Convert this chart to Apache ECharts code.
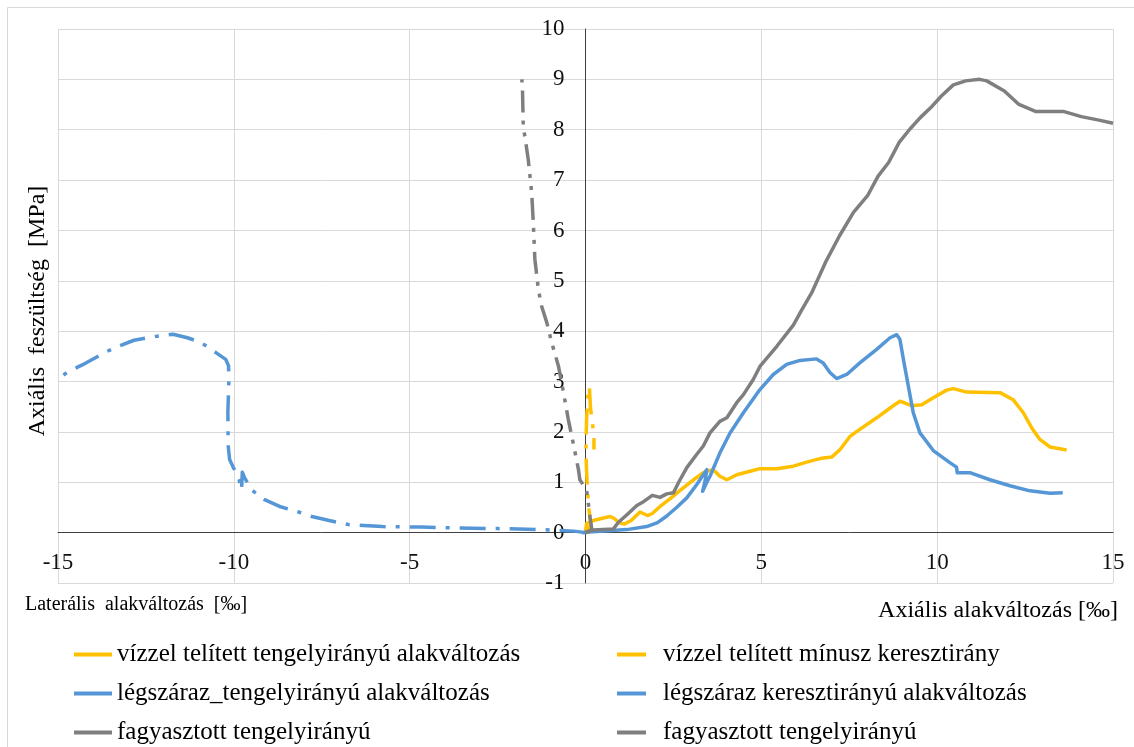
<!DOCTYPE html>
<html>
<head>
<meta charset="utf-8">
<script src="https://cdn.jsdelivr.net/npm/echarts@6/dist/echarts.min.js"></script>
<style>
  html, body { margin: 0; padding: 0; background: #fff; }
  #chart { width: 1134px; height: 747px; }
</style>
</head>
<body>
<div id="chart"></div>
<script>
// Axis ranges (‰ strain on x, MPa stress on y)
const xRange = { min: -15, max: 15, step: 5 };
const yRange = { min: -1, max: 10, step: 1 };

// Series names as shown in the legend
const seriesNames = [
  'vízzel telített tengelyirányú alakváltozás',
  'vízzel telített mínusz keresztirány',
  'légszáraz_tengelyirányú alakváltozás',
  'légszáraz keresztirányú alakváltozás',
  'fagyasztott tengelyirányú',
  'fagyasztott tengelyirányú'
];

// Water-saturated specimen, axial strain vs stress
const waterAxial = [
  [0, 0], [0.03, 0.18], [0.22, 0.24], [0.51, 0.29], [0.7, 0.32], [0.82, 0.28],
  [0.95, 0.2], [1.1, 0.17], [1.3, 0.24], [1.55, 0.41], [1.76, 0.34], [1.9, 0.38],
  [2.12, 0.52], [2.4, 0.67], [2.69, 0.84], [3.07, 1.05], [3.35, 1.19], [3.55, 1.24],
  [3.68, 1.22], [3.82, 1.12], [4.02, 1.05], [4.3, 1.15], [4.68, 1.22], [4.96, 1.27],
  [5.44, 1.27], [5.91, 1.32], [6.29, 1.4], [6.67, 1.47], [7.0, 1.5], [7.24, 1.65],
  [7.52, 1.91], [7.8, 2.05], [8.28, 2.28], [8.75, 2.52], [8.94, 2.61], [9.27, 2.52],
  [9.56, 2.54], [9.89, 2.68], [10.27, 2.83], [10.46, 2.86], [10.84, 2.79], [11.79, 2.78],
  [12.16, 2.64], [12.45, 2.38], [12.69, 2.08], [12.92, 1.85], [13.21, 1.7], [13.68, 1.64]
];

// Water-saturated specimen, negated lateral strain
const waterLateral = [
  [0, 0], [0.15, 0.15], [0.1, 0.45], [0.05, 0.92], [0.01, 1.58], [0.03, 2.25],
  [0.08, 2.84], [0.11, 2.9], [0.14, 2.5], [0.18, 2.25], [0.22, 2.05], [0.24, 1.85],
  [0.24, 1.65]
];

// Air-dry specimen, axial strain
const dryAxial = [
  [-0.1, 0], [0.22, 0.02], [1.17, 0.06], [1.74, 0.12], [2.05, 0.2], [2.31, 0.33],
  [2.59, 0.5], [2.88, 0.69], [3.16, 0.95], [3.35, 1.15], [3.45, 1.25], [3.4, 1.02],
  [3.33, 0.82], [3.45, 1.0], [3.54, 1.12], [3.82, 1.58], [4.11, 1.98], [4.49, 2.38],
  [4.96, 2.84], [5.34, 3.14], [5.72, 3.34], [6.1, 3.42], [6.57, 3.45], [6.76, 3.37],
  [6.95, 3.18], [7.14, 3.06], [7.43, 3.14], [7.8, 3.37], [8.28, 3.64], [8.66, 3.87],
  [8.85, 3.93], [8.94, 3.84], [9.04, 3.44], [9.18, 2.91], [9.32, 2.38], [9.51, 1.98],
  [9.89, 1.63], [10.36, 1.39], [10.55, 1.3], [10.57, 1.19], [10.93, 1.19], [11.5, 1.05],
  [12.07, 0.93], [12.64, 0.83], [13.21, 0.78], [13.57, 0.79]
];

// Air-dry specimen, lateral strain
const dryLateral = [
  [0, 0], [-0.33, 0.03], [-1.2, 0.06], [-2.5, 0.08], [-3.59, 0.09], [-4.68, 0.11],
  [-5.77, 0.12], [-6.31, 0.14], [-6.74, 0.16], [-7.29, 0.24], [-7.78, 0.32], [-8.16, 0.41],
  [-8.7, 0.52], [-9.14, 0.66], [-9.5, 0.85], [-9.7, 1.1], [-9.76, 1.2], [-9.78, 0.85],
  [-9.85, 1.05], [-10.01, 1.29], [-10.12, 1.45], [-10.16, 1.72], [-10.17, 2.38], [-10.14, 3.04],
  [-10.15, 3.31], [-10.23, 3.44], [-10.5, 3.57], [-10.77, 3.7], [-10.99, 3.79], [-11.32, 3.87],
  [-11.73, 3.94], [-12.18, 3.9], [-12.84, 3.82], [-13.28, 3.7], [-13.6, 3.6], [-14.31, 3.33],
  [-14.67, 3.21], [-15, 3.06]
];

// Frozen specimen, axial strain
const frozenAxial = [
  [0, 0], [0.22, 0.05], [0.79, 0.07], [0.93, 0.2], [1.17, 0.35], [1.46, 0.54],
  [1.66, 0.62], [1.9, 0.74], [2.12, 0.7], [2.31, 0.77], [2.5, 0.79], [2.65, 1.0],
  [2.88, 1.29], [3.16, 1.55], [3.35, 1.72], [3.54, 1.98], [3.82, 2.21], [4.02, 2.28],
  [4.3, 2.58], [4.49, 2.74], [4.77, 3.04], [4.96, 3.3], [5.44, 3.7], [5.91, 4.12],
  [6.13, 4.4], [6.43, 4.76], [6.82, 5.36], [7.22, 5.89], [7.62, 6.36], [8.02, 6.69],
  [8.32, 7.08], [8.62, 7.35], [8.92, 7.75], [9.22, 8.01], [9.52, 8.24], [9.82, 8.44],
  [10.12, 8.67], [10.46, 8.89], [10.81, 8.97], [11.21, 9.0], [11.41, 8.97], [11.91, 8.77],
  [12.31, 8.51], [12.81, 8.36], [13.61, 8.36], [14.1, 8.26], [14.6, 8.19], [15.0, 8.13]
];

// Frozen specimen, lateral strain
const frozenLateral = [
  [0, 0], [0.18, 0.06], [0.13, 0.3], [0.08, 0.59], [0.03, 0.85], [-0.16, 1.05],
  [-0.2, 1.25], [-0.35, 1.78], [-0.49, 2.25], [-0.63, 2.8], [-0.77, 3.31], [-0.96, 3.77],
  [-1.1, 4.17], [-1.25, 4.5], [-1.34, 4.83], [-1.44, 5.43], [-1.48, 6.09], [-1.53, 6.75],
  [-1.63, 7.42], [-1.77, 8.08], [-1.79, 8.74], [-1.81, 9.0]
];

const YELLOW = '#FFC000';
const BLUE = '#5596D6';
const GRAY = '#7F7F7F';
const SERIF = "'Liberation Serif', 'Times New Roman', serif";

const dashDot = [26, 10, 4, 10];
const dashDotDot = [22, 8, 4, 8, 4, 8];

// Plot box: x from 58 to 1113 px, y from 29 to 583 px
const GRID = { left: 58, right: 21, top: 29, bottom: 164 };
const plotW = 1134 - GRID.left - GRID.right;
const plotH = 747 - GRID.top - GRID.bottom;
// The axes cross at (0, 0): shift them inward from the grid edges
const yAxisShift = -plotW * (0 - xRange.min) / (xRange.max - xRange.min);
const xAxisShift = -plotH * (0 - yRange.min) / (yRange.max - yRange.min);

function line(name, data, color, dash) {
  return {
    type: 'line',
    name: name,
    data: data,
    showSymbol: false,
    symbol: 'none',
    smooth: false,
    itemStyle: { color: color },
    lineStyle: { color: color, width: 3.5, type: dash || 'solid', cap: 'butt', join: 'round' },
    emphasis: { disabled: true }
  };
}

const legendText = { fontFamily: SERIF, fontSize: 25, color: '#000', lineHeight: 24 };

const option = {
  backgroundColor: '#fff',
  animation: false,
  grid: Object.assign({ containLabel: false, outerBoundsMode: 'none' }, GRID),
  xAxis: {
    type: 'value', position: 'bottom', offset: xAxisShift,
    min: xRange.min, max: xRange.max, interval: xRange.step,
    axisLine: { show: true, onZero: false, lineStyle: { color: '#404040', width: 1 } },
    axisTick: { show: false },
    axisLabel: { margin: 19, fontFamily: SERIF, fontSize: 23, color: '#111' },
    splitLine: { show: true, lineStyle: { color: '#d9d9d9', width: 1 } }
  },
  yAxis: {
    type: 'value', position: 'left', offset: yAxisShift,
    min: yRange.min, max: yRange.max, interval: yRange.step,
    axisLine: { show: true, onZero: false, lineStyle: { color: '#404040', width: 1 } },
    axisTick: { show: false },
    axisLabel: { margin: 21, fontFamily: SERIF, fontSize: 23, color: '#111' },
    splitLine: { show: true, lineStyle: { color: '#d9d9d9', width: 1 } }
  },
  legend: [
    {
      orient: 'vertical', left: 74, top: 642, padding: 0,
      icon: 'rect', itemWidth: 38, itemHeight: 4, itemGap: 14,
      selectedMode: false,
      textStyle: legendText,
      data: [seriesNames[0], seriesNames[2], seriesNames[4]]
    },
    {
      orient: 'vertical', left: 617, top: 642, padding: 0,
      icon: 'rect', itemWidth: 29, itemHeight: 4, itemGap: 14,
      selectedMode: false,
      textStyle: Object.assign({}, legendText, { padding: [0, 0, 0, 12] }),
      data: [seriesNames[1], seriesNames[3], seriesNames[5]]
    }
  ],
  graphic: [
    {
      type: 'rect', silent: true, z: -10,
      shape: { x: 7.5, y: 7.5, width: 1132, height: 750 },
      style: { fill: 'none', stroke: '#d9d9d9', lineWidth: 1 }
    },
    {
      type: 'text', x: 38, y: 311, rotation: Math.PI / 2,
      style: { text: 'Axiális  feszültség  [MPa]', font: '24px ' + SERIF, fill: '#000',
               textAlign: 'center', textVerticalAlign: 'middle' }
    },
    {
      type: 'text', x: 25, y: 605,
      style: { text: 'Laterális  alakváltozás  [‰]', font: '20px ' + SERIF, fill: '#000',
               textAlign: 'left', textVerticalAlign: 'middle' }
    },
    {
      type: 'text', x: 1118, y: 611,
      style: { text: 'Axiális alakváltozás [‰]', font: '24px ' + SERIF, fill: '#000',
               textAlign: 'right', textVerticalAlign: 'middle' }
    }
  ],
  series: [
    line(seriesNames[0], waterAxial, YELLOW),
    line(seriesNames[1], waterLateral, YELLOW, dashDot),
    line(seriesNames[2], dryAxial, BLUE),
    line(seriesNames[3], dryLateral, BLUE, dashDot),
    line(seriesNames[4], frozenAxial, GRAY),
    line(seriesNames[5], frozenLateral, GRAY, dashDotDot)
  ]
};

const chart = echarts.init(document.getElementById('chart'), null, { renderer: 'canvas' });
chart.setOption(option);
</script>
</body>
</html>
